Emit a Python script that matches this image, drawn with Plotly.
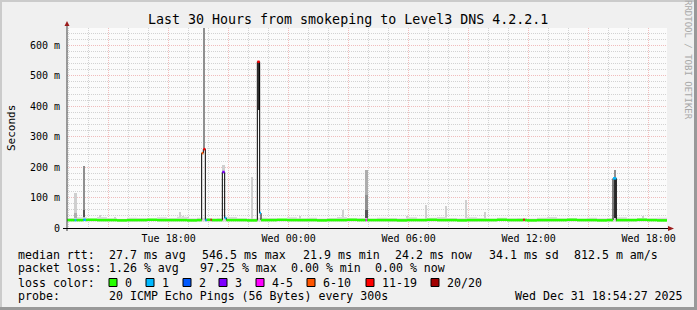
import pandas as pd
import plotly.graph_objects as go

# ---------------- data ----------------
T0 = pd.Timestamp("2025-12-30 12:55")
T1 = pd.Timestamp("2025-12-31 18:55")

# baseline median RTT (ms), sampled every 30 minutes from T0 to T1
base_median_ms = [26, 26, 27, 26, 26, 25, 26, 26, 27, 26,
                  26, 26, 25, 26, 27, 26, 26, 26, 25, 26,
                  26, 27, 26, 26, 26, 25, 26, 26, 27, 26,
                  26, 26, 26, 25, 26, 26, 27, 26, 26, 25,
                  26, 26, 26, 27, 26, 26, 25, 26, 26, 26,
                  27, 26, 26, 25, 26, 26, 26, 27, 26, 25, 24]
# baseline smoke band (ms), same 30 minute samples
smoke_lo_ms = [21, 22, 21, 21, 22, 21, 20, 21, 22, 21,
               21, 22, 21, 21, 20, 21, 22, 21, 21, 21,
               22, 21, 21, 20, 21, 22, 21, 21, 21, 22,
               21, 21, 20, 21, 22, 21, 21, 21, 22, 21,
               20, 21, 21, 22, 21, 21, 21, 20, 21, 22,
               21, 21, 21, 22, 21, 20, 21, 21, 22, 21, 21]
smoke_hi_ms = [33, 35, 31, 36, 32, 30, 34, 33, 31, 35,
               33, 37, 32, 34, 31, 33, 36, 32, 31, 34,
               33, 30, 35, 32, 34, 31, 33, 36, 32, 33,
               31, 34, 33, 32, 35, 31, 34, 36, 33, 32,
               35, 33, 31, 34, 32, 33, 31, 34, 36, 32,
               33, 31, 34, 32, 33, 35, 31, 33, 32, 34, 32]

# median events (time, median ms, loss class index)
loss_labels = ["0", "1", "2", "3", "4-5", "6-10", "11-19", "20/20"]
loss_colors = ["#26ff00", "#00b8ff", "#0059ff", "#7e00ff", "#ff00ff", "#ff5500", "#ff0000", "#a10000"]
ev_time = ["2025-12-30 13:18", "2025-12-30 13:23", "2025-12-30 13:44", "2025-12-30 13:52",
           "2025-12-30 19:39", "2025-12-30 19:44", "2025-12-30 19:50", "2025-12-30 19:54",
           "2025-12-30 20:06", "2025-12-30 20:09",
           "2025-12-30 20:41", "2025-12-30 20:48", "2025-12-30 20:53",
           "2025-12-30 22:26", "2025-12-30 22:33", "2025-12-30 22:37",
           "2025-12-31 03:51", "2025-12-31 03:56",
           "2025-12-31 11:44", "2025-12-31 11:48",
           "2025-12-31 16:13", "2025-12-31 16:23"]
ev_median_ms = [26, 26, 27, 26,
                246, 259, 26, 26,
                27, 26,
                184, 33, 26,
                546, 49, 26,
                26, 26,
                27, 26,
                163, 25]
ev_loss = [1, 0, 1, 0,
           5, 6, 1, 0,
           6, 0,
           3, 1, 0,
           6, 1, 0,
           4, 0,
           6, 0,
           1, 0]

# smoke columns (time, low ms, high ms, density level 1..5)
sc_time = ["2025-12-30 13:20", "2025-12-30 13:20", "2025-12-30 13:46", "2025-12-30 13:46",
           "2025-12-30 14:34", "2025-12-30 15:19", "2025-12-30 18:34", "2025-12-30 18:43",
           "2025-12-30 18:58", "2025-12-30 19:46", "2025-12-30 20:44", "2025-12-30 22:10",
           "2025-12-30 22:30", "2025-12-31 00:34", "2025-12-31 02:43", "2025-12-31 03:53",
           "2025-12-31 03:53", "2025-12-31 03:53", "2025-12-31 05:55", "2025-12-31 06:52",
           "2025-12-31 07:52", "2025-12-31 08:52", "2025-12-31 09:49", "2025-12-31 16:18",
           "2025-12-31 16:18", "2025-12-31 17:43"]
sc_lo_ms = [28, 28, 28, 28, 28, 28, 28, 28, 28, 262, 186, 28, 387,
            28, 28, 28, 28, 28, 28, 28, 28, 28, 28, 28, 163, 28]
sc_hi_ms = [115, 50, 203, 60, 43, 36, 52, 40, 35, 700, 206, 167, 546,
            40, 59, 190, 110, 60, 40, 75, 72, 92, 52, 163, 190, 40]
sc_density = [1, 2, 3, 4, 1, 1, 1, 1, 1, 3, 1, 1, 5,
              1, 1, 2, 3, 4, 1, 1, 1, 1, 1, 5, 3, 1]

y_tick_vals = [0, 0.1, 0.2, 0.3, 0.4, 0.5, 0.6]
y_tick_text = ["0", "100 m", "200 m", "300 m", "400 m", "500 m", "600 m"]
x_tick_vals = ["2025-12-30 15:00", "2025-12-30 18:00", "2025-12-30 21:00", "2025-12-31 00:00",
               "2025-12-31 03:00", "2025-12-31 06:00", "2025-12-31 09:00", "2025-12-31 12:00",
               "2025-12-31 15:00", "2025-12-31 18:00"]
x_tick_text = ["", "Tue 18:00", "", "Wed 00:00", "", "Wed 06:00", "", "Wed 12:00", "", "Wed 18:00"]

title = "Last 30 Hours from smokeping to Level3 DNS 4.2.2.1"
legend_rows = [
    [(16, "median rtt:"), (107, "27.7 ms avg"), (200, "546.5 ms max"), (301, "21.9 ms min"),
     (393, "24.2 ms now"), (487, "34.1 ms sd"), (572, "812.5 m am/s")],
    [(16, "packet loss:"), (107, "1.26 % avg"), (198, "97.25 % max"), (289, "0.00 % min"),
     (373, "0.00 % now")],
    [(16, "loss color:")],
    [(16, "probe:"), (107, "20 ICMP Echo Pings (56 Bytes) every 300s"), (513, "Wed Dec 31 18:54:27 2025")],
]
swatch_x = [109, 146, 183, 219, 256, 307, 366, 431]

# ---------------- styles ----------------
FONT = "DejaVu Sans Mono"
W, H = 697, 310
L, R, T, B = 67, 30, 28, 82
PW, PH = W - L - R, H - T - B
density_colors = {1: "#CFCFCF", 2: "#ADADAD", 3: "#8F8F8F", 4: "#555555", 5: "#2E2E2E"}


def px(x):
    return (x - L) / PW


def py(y):
    return (H - B - y) / PH


fig = go.Figure()

base_times = list(pd.date_range(T0, T1, freq="30min"))

# smoke band
fig.add_trace(go.Scatter(x=base_times, y=[v / 1000 for v in smoke_lo_ms], mode="lines",
                         line=dict(width=0, shape="hv"), showlegend=False, hoverinfo="skip"))
fig.add_trace(go.Scatter(x=base_times, y=[v / 1000 for v in smoke_hi_ms], mode="lines",
                         line=dict(width=0, shape="hv"), fill="tonexty", fillcolor="#DADADA",
                         showlegend=False, hoverinfo="skip"))

# smoke columns, lighter first
for lvl in sorted(set(sc_density)):
    idx = [i for i, d in enumerate(sc_density) if d == lvl]
    fig.add_trace(go.Bar(
        x=[pd.Timestamp(sc_time[i]) for i in idx],
        y=[(sc_hi_ms[i] - sc_lo_ms[i]) / 1000 for i in idx],
        base=[sc_lo_ms[i] / 1000 for i in idx],
        width=7 * 60 * 1000,
        marker=dict(color=density_colors[lvl], line=dict(width=0)),
        showlegend=False, hoverinfo="skip"))

# merged median series
pts = [(t, v, 0) for t, v in zip(base_times, base_median_ms)]
pts += [(pd.Timestamp(t), v, l) for t, v, l in zip(ev_time, ev_median_ms, ev_loss)]
pts.sort(key=lambda p: p[0])

fig.add_trace(go.Scatter(x=[p[0] for p in pts], y=[p[1] / 1000 for p in pts], mode="lines",
                         line=dict(color="#000000", width=1, shape="hv"),
                         showlegend=False, hoverinfo="skip"))

for li, col in enumerate(loss_colors):
    xs, ys = [], []
    for i in range(len(pts) - 1):
        if pts[i][2] == li:
            xs += [pts[i][0], pts[i + 1][0], None]
            ys += [pts[i][1] / 1000, pts[i][1] / 1000, None]
    if xs:
        fig.add_trace(go.Scatter(x=xs, y=ys, mode="lines", line=dict(color=col, width=2.5),
                                 showlegend=False, hoverinfo="skip"))

# ---------------- layout ----------------
annotations = [
    dict(text=title, x=px(347.5), y=py(19), xref="paper", yref="paper", showarrow=False,
         xanchor="center", yanchor="middle", font=dict(family=FONT, size=13.3, color="#000")),
    dict(text="Seconds", x=px(11), y=py(128), xref="paper", yref="paper", showarrow=False,
         textangle=-90, xanchor="center", yanchor="middle", font=dict(family=FONT, size=11, color="#000")),
    dict(text="RRDTOOL / TOBI OETIKER", x=px(688), y=py(60), xref="paper", yref="paper", showarrow=False,
         textangle=90, xanchor="center", yanchor="middle", font=dict(family=FONT, size=9, color="#A8A8A8")),
]
row_y = [254.5, 268.3, 282.5, 296.2]
for ry, row in zip(row_y, legend_rows):
    for x0, txt in row:
        annotations.append(dict(text=txt, x=px(x0), y=py(ry), xref="paper", yref="paper", showarrow=False,
                                xanchor="left", yanchor="middle",
                                font=dict(family=FONT, size=11.6, color="#000")))
shapes = []
for sx, lab, col in zip(swatch_x, loss_labels, loss_colors):
    shapes.append(dict(type="rect", xref="paper", yref="paper", x0=px(sx), x1=px(sx + 8),
                       y0=py(278.5), y1=py(286.5), fillcolor=col, line=dict(color="#000", width=1)))
    annotations.append(dict(text=lab, x=px(sx + 14), y=py(282.5), xref="paper", yref="paper",
                            showarrow=False, xanchor="left", yanchor="middle",
                            font=dict(family=FONT, size=11.6, color="#000")))

# axes lines and arrows
shapes += [
    dict(type="line", xref="paper", yref="paper", x0=px(67), x1=px(67), y0=py(231), y1=py(23),
         line=dict(color="#404040", width=1)),
    dict(type="line", xref="paper", yref="paper", x0=px(63), x1=px(670), y0=py(228.5), y1=py(228.5),
         line=dict(color="#000000", width=1)),
    dict(type="path", xref="paper", yref="paper",
         path=f"M {px(64.5)},{py(26)} L {px(69.5)},{py(26)} L {px(67)},{py(21)} Z",
         fillcolor="#9B1C1C", line=dict(width=0)),
    dict(type="path", xref="paper", yref="paper",
         path=f"M {px(668)},{py(226)} L {px(668)},{py(231)} L {px(674)},{py(228.5)} Z",
         fillcolor="#9B1C1C", line=dict(width=0)),
    # 3D frame
    dict(type="rect", xref="paper", yref="paper", x0=px(0), x1=px(697), y0=py(0), y1=py(2),
         fillcolor="#CBCBCB", line=dict(width=0)),
    dict(type="rect", xref="paper", yref="paper", x0=px(0), x1=px(2), y0=py(0), y1=py(310),
         fillcolor="#CBCBCB", line=dict(width=0)),
    dict(type="rect", xref="paper", yref="paper", x0=px(694), x1=px(697), y0=py(0), y1=py(310),
         fillcolor="#999999", line=dict(width=0)),
    dict(type="rect", xref="paper", yref="paper", x0=px(0), x1=px(697), y0=py(307), y1=py(310),
         fillcolor="#999999", line=dict(width=0)),
]

fig.update_layout(
    width=W, height=H,
    margin=dict(l=L, r=R, t=T, b=B, pad=0),
    paper_bgcolor="#F0F0F0", plot_bgcolor="#FBFBFB",
    barmode="overlay", bargap=0,
    showlegend=False, hovermode=False,
    annotations=annotations, shapes=shapes,
    xaxis=dict(range=[T0, T1], tickmode="array", tickvals=x_tick_vals, ticktext=x_tick_text,
               showgrid=True, gridcolor="#F0BCBC", griddash="1px,1px", gridwidth=1,
               minor=dict(dtick=3600000, tick0="2025-12-30 00:00", showgrid=True,
                          gridcolor="#D2D2D2", griddash="1px,1px", gridwidth=1),
               zeroline=False, showline=False, ticks="", ticklabelstandoff=3,
               tickfont=dict(family=FONT, size=10, color="#000")),
    yaxis=dict(range=[0, 0.657], tickmode="array", tickvals=y_tick_vals, ticktext=y_tick_text,
               showgrid=True, gridcolor="#F0BCBC", griddash="1px,1px", gridwidth=1,
               minor=dict(dtick=0.02, tick0=0, showgrid=True,
                          gridcolor="#D2D2D2", griddash="1px,1px", gridwidth=1),
               zeroline=False, showline=False, ticks="", ticklabelstandoff=6,
               tickfont=dict(family=FONT, size=10, color="#000")),
)

fig.write_html("out.html", config={"displayModeBar": False})
